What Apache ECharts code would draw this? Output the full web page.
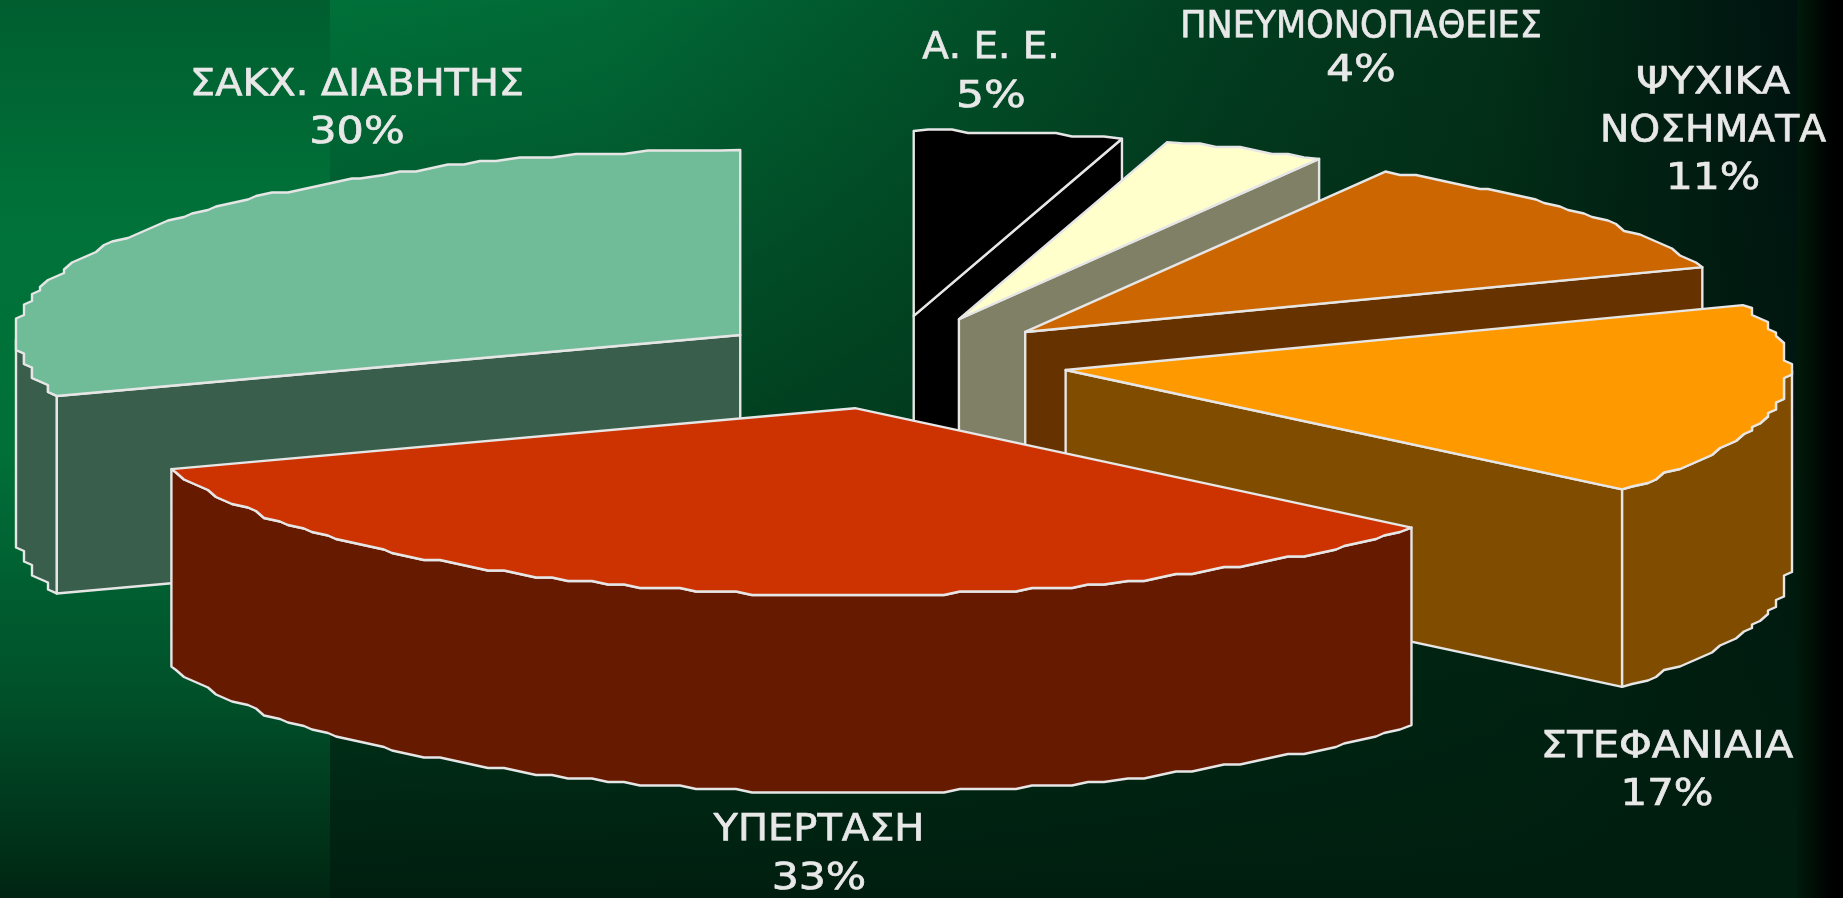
<!DOCTYPE html>
<html>
<head>
<meta charset="utf-8">
<style>html,body{margin:0;padding:0;background:#000}#c{width:1843px;height:898px}</style>
<script src="https://cdn.jsdelivr.net/npm/echarts@6/dist/echarts.min.js"></script>
</head>
<body>
<div id="c"></div>
<script>
// DATA
const categories = ['Α. Ε. Ε.', 'ΠΝΕΥΜΟΝΟΠΑΘΕΙΕΣ', 'ΨΥΧΙΚΑ\nΝΟΣΗΜΑΤΑ', 'ΣΤΕΦΑΝΙΑΙΑ', 'ΥΠΕΡΤΑΣΗ', 'ΣΑΚΧ. ΔΙΑΒΗΤΗΣ'];
const values = [4.65, 3.65, 11, 16.72, 33.7, 30.28];
const percentLabels = ['5%', '4%', '11%', '17%', '33%', '30%'];
const topColors = ['#000000', '#ffffcc', '#cc6600', '#ff9900', '#cc3300', '#70bb98'];
const wallColors = ['#000000', '#808066', '#663300', '#804d00', '#661a00', '#3a5e4c'];

// LAYOUT
const W = 1843, H = 898;
const pie = { cx: 887.4, cy: 362.2, a: 723, bBack: 185, bFront: 187, depth: 197.5, explode: 0.25, gridX: 8, gridY: 3.5, step: 1.5 };
const labelCenters = [[991, 48.5], [1361, 27.5], [1713, 83.5], [1667, 747.5], [819, 830.5], [357, 85.5]];
const labelGaps = [49, 44, 48, 48, 49, 48];
const nameStretch = [[1.05], [0.945], [1.12, 1.06], [1.127], [1.08], [1.076]];
const percentStretch = [1.19, 1.19, 1.15, 1.13, 1.15, 1.16];
const LINE = '#e6e6e6';

const total = values.reduce((s, v) => s + v, 0);

function rimPoints(ox, oy, from, to) {
  const pts = [];
  const n = Math.max(2, Math.ceil((to - from) / pie.step));
  for (let i = 0; i <= n; i++) {
    const deg = from + (to - from) * i / n;
    const t = deg * Math.PI / 180;
    const c = Math.cos(t);
    let x = ox + pie.a * Math.sin(t), y = oy - (c > 0 ? pie.bBack : pie.bFront) * c;
    if (i > 0 && i < n) {
      x = Math.round(x / pie.gridX) * pie.gridX;
      y = Math.round(y / pie.gridY) * pie.gridY;
    }
    pts.push({ deg, p: [x, y] });
  }
  return pts;
}

function renderSlice(params, api) {
  const i = params.dataIndex;
  const v = api.value(0);
  let before = 0;
  for (let k = 0; k < i; k++) before += values[k];
  const from = before / total * 360, to = (before + v) / total * 360;
  const mid = (from + to) / 2 * Math.PI / 180;
  const ox = pie.cx + pie.explode * pie.a * Math.sin(mid);
  const oy = pie.cy - pie.explode * pie.bFront * Math.cos(mid);
  const z2 = i === 4 ? 10 : 0;
  const wall = pts => ({
    type: 'polygon', z2,
    shape: { points: pts },
    style: { fill: wallColors[i], stroke: LINE, lineWidth: 2.4, lineJoin: 'round' }
  });
  const down = pts => pts.map(p => [p[0], p[1] + pie.depth]);
  const children = [];
  const tagged = rimPoints(ox, oy, from, to);
  const rim = tagged.map(r => r.p);
  const first = rim[0], last = rim[rim.length - 1];
  // radial side walls that face the viewer
  if (Math.sin(to * Math.PI / 180) > 0.001) {
    children.push(wall([[ox, oy], last, [last[0], last[1] + pie.depth], [ox, oy + pie.depth]]));
  }
  if (Math.sin(from * Math.PI / 180) < -0.001) {
    children.push(wall([[ox, oy], first, [first[0], first[1] + pie.depth], [ox, oy + pie.depth]]));
  }
  // outer rim wall
  const front = tagged.filter(r => r.deg >= 90 && r.deg <= 270).map(r => r.p);
  if (front.length > 1) {
    children.push(wall(front.concat(down(front).reverse())));
  }
  // top face
  children.push({
    type: 'polygon', z2,
    shape: { points: [[ox, oy]].concat(rim) },
    style: { fill: topColors[i], stroke: LINE, lineWidth: 2.4, lineJoin: 'round' }
  });
  // label
  const names = categories[i].split('\n');
  const lines = names.concat([percentLabels[i]]);
  lines.forEach((t, n) => {
    children.push({
      type: 'text', z2: 20,
      x: labelCenters[i][0],
      y: labelCenters[i][1] + n * labelGaps[i],
      scaleX: n < names.length ? nameStretch[i][n] : percentStretch[i],
      style: {
        text: t, x: 0, y: 0,
        fill: '#e8e8e8', stroke: '#e8e8e8', lineWidth: 0.7,
        align: 'center', verticalAlign: 'middle',
        font: '37px "DejaVu Sans"'
      }
    });
  });
  return { type: 'group', children };
}

const grad = (x2, y2, stops) => new echarts.graphic.LinearGradient(0, 0, x2, y2,
  stops.map(s => ({ offset: s[0], color: s[1] })));
const px = x => (x - 330) / (1797 - 330);

const chart = echarts.init(document.getElementById('c'), null, { renderer: 'canvas', width: W, height: H });
chart.setOption({
  animation: false,
  backgroundColor: '#000',
  graphic: { elements: [
    { type: 'rect', shape: { x: 330, y: 0, width: 1467, height: H }, silent: true, style: { fill: grad(1, 0, [
      [0, '#007039'], [px(600), '#016a36'], [px(880), '#01572c'], [px(1230), '#023d20'], [px(1500), '#023018'], [1, '#00120f']
    ]) } },
    { type: 'rect', shape: { x: 330, y: 0, width: 1467, height: H }, silent: true, style: { fill: grad(0, 1, [
      [0, 'rgba(0,30,15,0)'], [1, 'rgba(0,30,15,1)']
    ]) } },
    { type: 'rect', shape: { x: 0, y: 0, width: 330, height: H }, silent: true, style: { fill: grad(0, 1, [
      [0, '#005e2f'], [0.26, '#00733a'], [0.5, '#007038'], [0.78, '#00502a'], [1, '#002512']
    ]) } },
    { type: 'rect', shape: { x: 1797, y: 0, width: 46, height: H }, silent: true, style: { fill: grad(1, 0, [
      [0, '#001a0a'], [0.8, '#000000'], [1, '#000000']
    ]) } }
  ] },
  series: [{
    type: 'custom',
    coordinateSystem: 'none',
    silent: true,
    clip: false,
    renderItem: renderSlice,
    data: categories.map((name, i) => ({ name, value: [values[i]] }))
  }]
});
</script>
</body>
</html>
